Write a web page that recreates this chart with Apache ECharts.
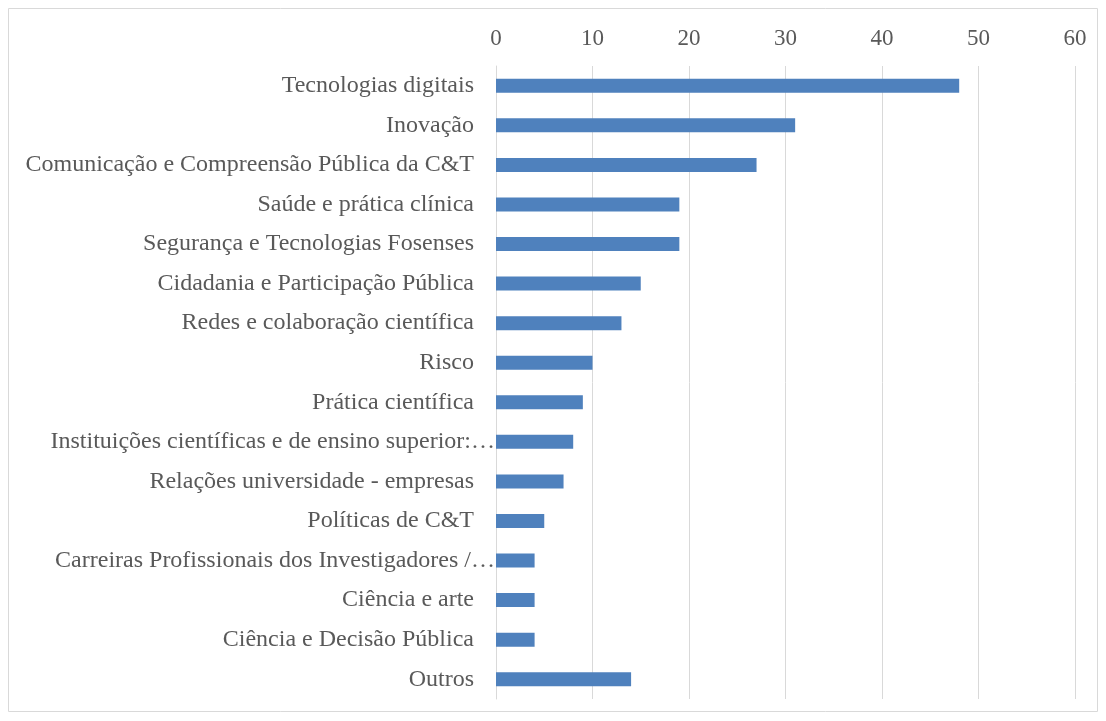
<!DOCTYPE html>
<html>
<head>
<meta charset="utf-8">
<script src="https://cdn.jsdelivr.net/npm/echarts@6/dist/echarts.min.js"></script>
<style>
  html, body { margin: 0; padding: 0; background: #fff; }
  #chart { width: 1106px; height: 721px; }
</style>
</head>
<body>
<div id="chart"></div>
<script>
  // temas, de cima para baixo
  const categories = [
    'Tecnologias digitais',
    'Inovação',
    'Comunicação e Compreensão Pública da C&T',
    'Saúde e prática clínica',
    'Segurança e Tecnologias Fosenses',
    'Cidadania e Participação Pública',
    'Redes e colaboração científica',
    'Risco',
    'Prática científica',
    'Instituições científicas e de ensino superior:…',
    'Relações universidade - empresas',
    'Políticas de C&T',
    'Carreiras Profissionais dos Investigadores /…',
    'Ciência e arte',
    'Ciência e Decisão Pública',
    'Outros'
  ];
  const values = [48, 31, 27, 19, 19, 15, 13, 10, 9, 8, 7, 5, 4, 4, 4, 14];
  const xTicks = [0, 60, 10]; // min, max, interval

  const font = '"Liberation Serif", "Times New Roman", serif';
  const textColor = '#595959';
  const gridColor = '#d9d9d9';

  const chart = echarts.init(document.getElementById('chart'));
  chart.setOption({
    animation: false,
    graphic: [{
      type: 'rect',
      shape: { x: 8.5, y: 8.5, width: 1089, height: 703 },
      style: { fill: 'none', stroke: gridColor, lineWidth: 1 }
    }],
    grid: { left: 496, right: 31, top: 66, bottom: 22 },
    xAxis: {
      type: 'value',
      position: 'top',
      min: xTicks[0],
      max: xTicks[1],
      interval: xTicks[2],
      axisLine: { show: false },
      axisTick: { show: false },
      axisLabel: { color: textColor, fontFamily: font, fontSize: 23, margin: 16 },
      splitLine: { lineStyle: { color: gridColor, width: 1 } }
    },
    yAxis: {
      type: 'category',
      inverse: true,
      data: categories,
      axisLine: { show: true, lineStyle: { color: gridColor, width: 1 } },
      axisTick: { show: false },
      axisLabel: {
        color: textColor,
        fontFamily: font,
        fontSize: 24,
        margin: 0,
        // rótulos cortados (…) encostam ao eixo, como no Excel
        formatter: (v) => v.endsWith('…') ? '{t|' + v + '}' : '{n|' + v + '}',
        rich: {
          n: { color: textColor, fontFamily: font, fontSize: 24, padding: [0, 22, 0, 0] },
          t: { color: textColor, fontFamily: font, fontSize: 24, padding: [0, 1, 0, 0] }
        }
      }
    },
    series: [{
      type: 'bar',
      data: values,
      barWidth: 14,
      itemStyle: { color: '#4f81bd' }
    }]
  });
</script>
</body>
</html>
